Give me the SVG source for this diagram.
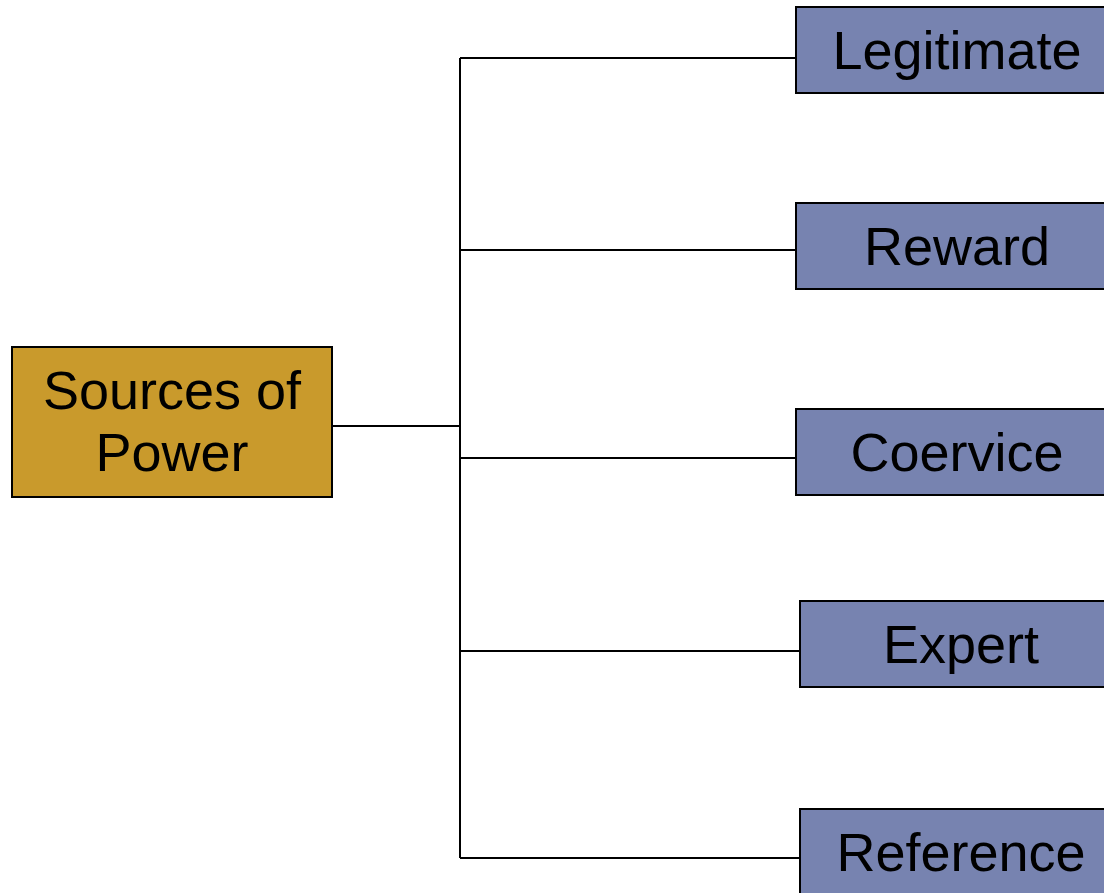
<svg xmlns="http://www.w3.org/2000/svg" width="1104" height="893" viewBox="0 0 1104 893">
  <style>
    .root { fill: #C99A2C; stroke: #000; stroke-width: 2; }
    .leaf { fill: #7783B0; stroke: #000; stroke-width: 2; }
    .label { font-family: "Liberation Sans", Arial, sans-serif; font-size: 54px; fill: #000; text-anchor: middle; }
    .wire { fill: none; stroke: #000; stroke-width: 2; }
  </style>
  <rect width="1104" height="893" fill="#fff"/>

  <g id="connectors">
    <path class="wire" d="M332 426 H460"/>
    <path class="wire" d="M460 58 V858"/>
    <path class="wire" d="M460 58 H796"/>
    <path class="wire" d="M460 250 H796"/>
    <path class="wire" d="M460 458 H796"/>
    <path class="wire" d="M460 651 H800"/>
    <path class="wire" d="M460 858 H800"/>
  </g>

  <g id="sources-of-power">
    <rect class="root" x="12" y="347" width="320" height="150"/>
    <text class="label" x="172" y="409">Sources of</text>
    <text class="label" x="172" y="471">Power</text>
  </g>

  <g id="legitimate">
    <rect class="leaf" x="796" y="7" width="322" height="86"/>
    <text class="label" x="957" y="69">Legitimate</text>
  </g>

  <g id="reward">
    <rect class="leaf" x="796" y="203" width="322" height="86"/>
    <text class="label" x="957" y="265">Reward</text>
  </g>

  <g id="coervice">
    <rect class="leaf" x="796" y="409" width="322" height="86"/>
    <text class="label" x="957" y="471">Coervice</text>
  </g>

  <g id="expert">
    <rect class="leaf" x="800" y="601" width="322" height="86"/>
    <text class="label" x="961" y="663">Expert</text>
  </g>

  <g id="reference">
    <rect class="leaf" x="800" y="809" width="322" height="86"/>
    <text class="label" x="961" y="871">Reference</text>
  </g>
</svg>
